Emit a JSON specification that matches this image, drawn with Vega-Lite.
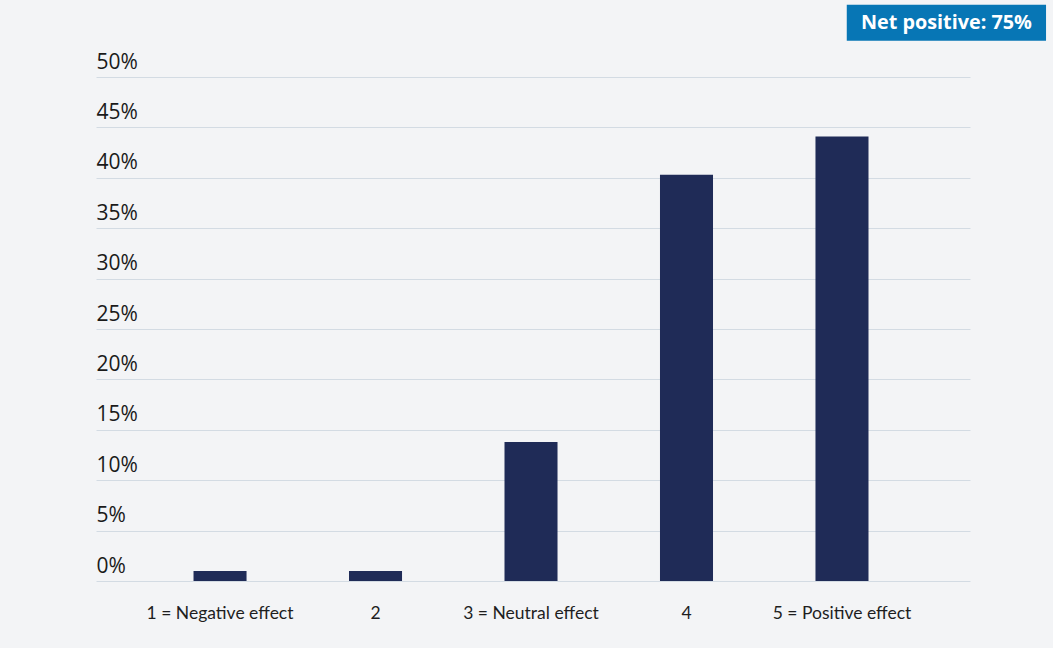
{
  "$schema": "https://vega.github.io/schema/vega-lite/v6.json",
  "width": 874,
  "height": 504,
  "autosize": {"type": "none"},
  "padding": {"left": 96, "top": 77, "right": 83, "bottom": 67},
  "background": "#f3f4f6",
  "config": {"view": {"stroke": null}},
  "layer": [
    {
      "data": {
        "values": [
          {"response": "1 = Negative effect", "share": 0.01},
          {"response": "2", "share": 0.01},
          {"response": "3 = Neutral effect", "share": 0.138},
          {"response": "4", "share": 0.403},
          {"response": "5 = Positive effect", "share": 0.441}
        ]
      },
      "mark": {"type": "bar", "color": "#1f2b57"},
      "encoding": {
        "x": {
          "field": "response",
          "type": "nominal",
          "sort": null,
          "scale": {"paddingInner": 0.659, "paddingOuter": 0.64, "align": 0.49},
          "axis": {
            "title": null,
            "labelAngle": 0,
            "domain": false,
            "ticks": false,
            "grid": false,
            "labelPadding": 37,
            "labelBaseline": "alphabetic",
            "labelFont": "Lato",
            "labelFontSize": 17.5,
            "labelColor": "#1e1e1e"
          }
        },
        "y": {
          "field": "share",
          "type": "quantitative",
          "scale": {"domain": [0, 0.5]},
          "axis": {
            "title": null,
            "format": ".0%",
            "values": [0, 0.05, 0.1, 0.15, 0.2, 0.25, 0.3, 0.35, 0.4, 0.45, 0.5],
            "domain": false,
            "ticks": false,
            "labelAlign": "left",
            "labelBaseline": "alphabetic",
            "labelPadding": 0,
            "labelOffset": -9,
            "labelFont": "Open Sans",
            "labelFontSize": 21,
            "labelColor": "#1a1a1a",
            "gridColor": "#d3dbe3",
            "gridWidth": 1.2
          }
        }
      }
    },
    {
      "data": {"values": [{"label": "Net positive: 75%"}]},
      "layer": [
        {
          "mark": {"type": "rect", "color": "#0776b5", "clip": false},
          "encoding": {
            "x": {"datum": 0.859, "type": "quantitative", "scale": {"domain": [0, 1]}, "axis": null},
            "x2": {"datum": 1.087},
            "y": {"datum": 0.5717, "type": "quantitative"},
            "y2": {"datum": 0.536}
          }
        },
        {
          "mark": {"type": "text", "color": "#ffffff", "font": "Open Sans", "fontWeight": "bold", "fontSize": 19.8, "align": "center", "baseline": "middle", "clip": false},
          "encoding": {
            "x": {"datum": 0.973, "type": "quantitative", "scale": {"domain": [0, 1]}, "axis": null},
            "y": {"datum": 0.5539, "type": "quantitative"},
            "text": {"field": "label"}
          }
        }
      ]
    }
  ],
  "resolve": {"scale": {"x": "independent"}}
}
